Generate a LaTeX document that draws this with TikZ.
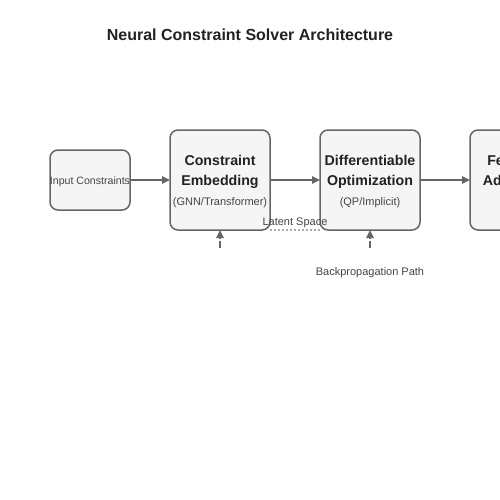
\documentclass[tikz,border=0pt]{standalone}
\usepackage{fontspec}
\setmainfont{Liberation Sans}
\usetikzlibrary{arrows.meta, positioning, calc}

\definecolor{boxfill}{HTML}{F5F5F5}
\definecolor{boxline}{HTML}{666666}
\definecolor{txtdark}{HTML}{222222}
\definecolor{txtgray}{HTML}{444444}
\definecolor{dotgray}{HTML}{AAAAAA}

\tikzset{
  stage/.style={draw=boxline, fill=boxfill, line width=1.5pt, rounded corners=8pt,
    minimum width=100pt, minimum height=100pt, inner sep=0pt, outer sep=0pt},
  head/.style={align=center, text=txtdark, font=\bfseries\fontsize{14.2}{20}\selectfont, inner sep=0pt},
  small/.style={text=txtgray, font=\fontsize{11}{13}\selectfont, inner sep=0pt},
  flow/.style={->, draw=boxline, line width=1.5pt},
  back/.style={->, draw=boxline, line width=1.5pt, dash pattern=on 7pt off 3pt},
}

\begin{document}
\begin{tikzpicture}[x=1pt, y=-1pt, >={Triangle[length=8pt, width=7.5pt]}]
    \useasboundingbox (0,0) rectangle (500,500);

    \node[text=txtdark, font=\bfseries\fontsize{16}{19}\selectfont] (title) at (250,35) {Neural Constraint Solver Architecture};

    \node[stage, minimum width=80pt, minimum height=60pt] (input) at (90,180) {};
    \node[small, font=\fontsize{10.6}{13}\selectfont] (inputtext) at ([yshift=-2pt]input.center) {Input Constraints};

    \node[stage, right=40pt of input] (embed) {};
    \node[head] (embedhead) at ([yshift=8pt]embed.center) {Constraint\\Embedding};
    \node[small] (embedsub) at ([yshift=-22.5pt]embed.center) {(GNN/Transformer)};

    \node[stage, right=50pt of embed] (optim) {};
    \node[head] (optimhead) at ([yshift=8pt]optim.center) {Differentiable\\Optimization};
    \node[small] (optimsub) at ([yshift=-22.5pt]optim.center) {(QP/Implicit)};

    \node[stage, right=50pt of optim] (adapt) {};
    \node[head] (adapthead) at ([yshift=8pt]adapt.center) {Feedback\\Adaptation};
    \node[small] (adaptsub) at ([yshift=-22.5pt]adapt.center) {(Online)};

    \draw[flow] (input) -- (embed);
    \draw[flow] (embed) -- (optim);
    \draw[flow] (optim) -- (adapt);

    % latent space link
    \draw[dotgray, line width=1.5pt, dash pattern=on 2pt off 2pt] (embed.south east) -- (optim.south west);
    \node[small] (latent) at ($(embed.south east)!0.5!(optim.south west)+(0,-7)$) {Latent Space};

    % backpropagation
    \coordinate[below=18pt of embed.south] (embedback);
    \coordinate[below=18pt of optim.south] (optimback);
    \draw[back] (embedback) -- (embed.south);
    \draw[back] (optimback) -- (optim.south);
    \node[small] (backprop) at ($(optim.south)+(0,43)$) {Backpropagation Path};
\end{tikzpicture}
\end{document}
